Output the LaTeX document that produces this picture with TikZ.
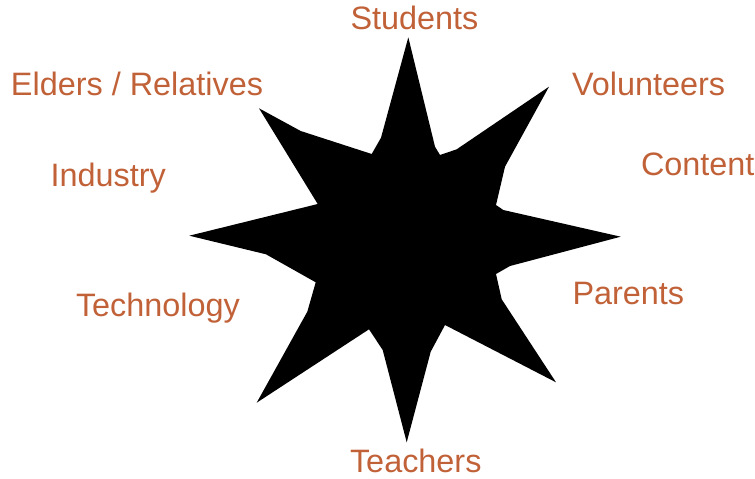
\documentclass[tikz,border=0pt]{standalone}
\usepackage{fontspec}
\setmainfont{Liberation Sans}
\definecolor{labelbrown}{RGB}{193,97,56}
\begin{document}
\begin{tikzpicture}[x=0.75pt,y=-0.75pt,
  label text/.style={anchor=base west,inner sep=0pt,outer sep=0pt,
    text=labelbrown,font=\fontsize{24.3}{28}\selectfont}]
\useasboundingbox (0,0) rectangle (755,478);
% eight-pointed star
\fill[black] (408.3,37.3) -- (435,146.7) -- (440,155) -- (456.7,149.3)
  -- (549,86.7) -- (505,166.7) -- (496,205) -- (503.3,210)
  -- (620.7,236.7) -- (510,266) -- (496,274) -- (501.7,299.3)
  -- (556,382.3) -- (445,325) -- (430.7,351.7)
  -- (406.7,442.3) -- (382.7,350) -- (369,329.3)
  -- (256.7,402.7) -- (307.3,311.7) -- (315.7,282.3) -- (266,254.3)
  -- (189.3,235.7) -- (317.7,204)
  -- (259,108.3) -- (300.7,131) -- (371.7,154) -- (381,137.7) -- cycle;
% labels around the star
\node[label text] (students) at (350.5,29.3) {Students};
\node[label text] (elders) at (11,95) {Elders / Relatives};
\node[label text] (volunteers) at (572,95) {Volunteers};
\node[label text] (content) at (641,175) {Content};
\node[label text] (industry) at (50.5,186) {Industry};
\node[label text] (technology) at (76,316.7) {Technology};
\node[label text] (parents) at (572.5,304.3) {Parents};
\node[label text] (teachers) at (350,472.7) {Teachers};
\end{tikzpicture}
\end{document}
